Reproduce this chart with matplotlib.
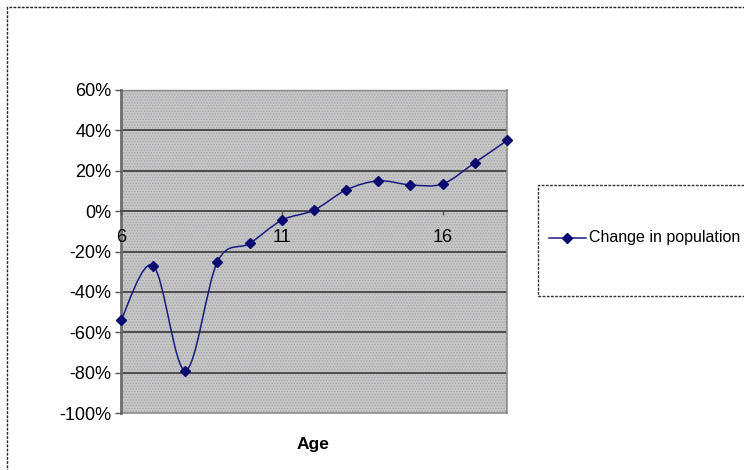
import matplotlib
matplotlib.use('Agg')
import matplotlib.pyplot as plt
from matplotlib.path import Path
from matplotlib.patches import PathPatch, Rectangle
from matplotlib.lines import Line2D
from matplotlib.ticker import PercentFormatter
import numpy as np

plt.rcParams['font.family'] = ['Liberation Sans', 'DejaVu Sans']
plt.rcParams['hatch.linewidth'] = 0.6
plt.rcParams['axes.unicode_minus'] = False

ages = [6, 7, 8, 9, 10, 11, 12, 13, 14, 15, 16, 17, 18]
change = [-54, -27, -79, -25, -16, -4.5, 0.5, 10.5, 15, 13, 13.5, 24, 35]
age_ticks = [6, 11, 16]
pct_ticks = [-100, -80, -60, -40, -20, 0, 20, 40, 60]
series_name = 'Change in population'
navy = '#1a1a80'

fig = plt.figure(figsize=(7.44, 4.70), dpi=100)
W, H = 744, 470
ax = fig.add_axes([121 / W, 1 - 413 / H, (507 - 121) / W, (413 - 90) / H])

# stippled grey plot area
ax.set_facecolor('white')
ax.add_patch(Rectangle((0, 0), 1, 1, transform=ax.transAxes, facecolor='#c6c6c6',
                       edgecolor='#a4a4aa', hatch='......', linewidth=0, zorder=0))

ax.set_xlim(ages[0], ages[-1])
ax.set_ylim(pct_ticks[0], pct_ticks[-1])

# horizontal gridlines
for v in pct_ticks[1:-1]:
    ax.axhline(v, color='#4d4d4d', linewidth=1.4, zorder=1)
ax.axhline(pct_ticks[-1], color='#8c8c8c', linewidth=1.0, zorder=1, clip_on=False)
ax.axhline(pct_ticks[0], color='#8c8c8c', linewidth=1.2, zorder=1, clip_on=False)
ax.axvline(ages[-1], color='#8c8c8c', linewidth=1.2, zorder=1, clip_on=False)

# smoothed line through the points (Catmull-Rom as cubic Beziers)
pts = np.column_stack([ages, change]).astype(float)
ext = np.vstack([pts[0], pts, pts[-1]])
verts = [tuple(pts[0])]
codes = [Path.MOVETO]
for i in range(len(pts) - 1):
    p0, p1, p2, p3 = ext[i], ext[i + 1], ext[i + 2], ext[i + 3]
    c1 = p1 + (p2 - p0) / 6
    c2 = p2 - (p3 - p1) / 6
    verts += [tuple(c1), tuple(c2), tuple(p2)]
    codes += [Path.CURVE4] * 3
ax.add_patch(PathPatch(Path(verts, codes), facecolor='none', edgecolor=navy,
                       linewidth=1.1, zorder=3))
ax.plot(ages, change, linestyle='none', marker='D', markersize=5.5,
        color='#0a0a70', zorder=4, clip_on=False)

# axes
for s in ['top', 'right']:
    ax.spines[s].set_visible(False)
ax.spines['left'].set_color('#6e6e6e')
ax.spines['left'].set_linewidth(2)
ax.spines['left'].set_zorder(1.5)
ax.spines['bottom'].set_position(('data', 0))
ax.spines['bottom'].set_color('#4d4d4d')
ax.spines['bottom'].set_linewidth(1.4)

ax.set_yticks(pct_ticks)
ax.yaxis.set_major_formatter(PercentFormatter(decimals=0))
ax.set_xticks(age_ticks)
ax.tick_params(axis='y', direction='out', length=4, width=1, color='#555555',
               labelsize=13, pad=3)
ax.tick_params(axis='x', direction='out', length=3, width=1, color='#555555',
               labelsize=13, pad=10)

fig.text(313 / W, 1 - 445 / H, 'Age', ha='center', va='center',
         fontsize=12.5, fontweight='bold')

# legend box
fig.patches.append(Rectangle((538 / W, 1 - 296 / H), 260 / W, 111 / H,
                             transform=fig.transFigure, facecolor='white',
                             edgecolor='#333333', linewidth=1.0,
                             linestyle=(0, (2, 1))))
ly = 1 - 238 / H
fig.lines.append(Line2D([549 / W, 586 / W], [ly, ly], transform=fig.transFigure,
                        color=navy, linewidth=1.1))
fig.lines.append(Line2D([567 / W], [ly], transform=fig.transFigure, marker='D',
                        markersize=5.5, color='#0a0a70', linestyle='none'))
fig.text(589 / W, ly, series_name, ha='left', va='center', fontsize=11.5)

# outer chart border
fig.patches.append(Rectangle((7 / W, -0.1), 1.2, 1.1 - 7 / H,
                             transform=fig.transFigure, facecolor='none',
                             edgecolor='#222222', linewidth=1.0,
                             linestyle=(0, (2, 1))))

fig.savefig('out.png', dpi=100)
